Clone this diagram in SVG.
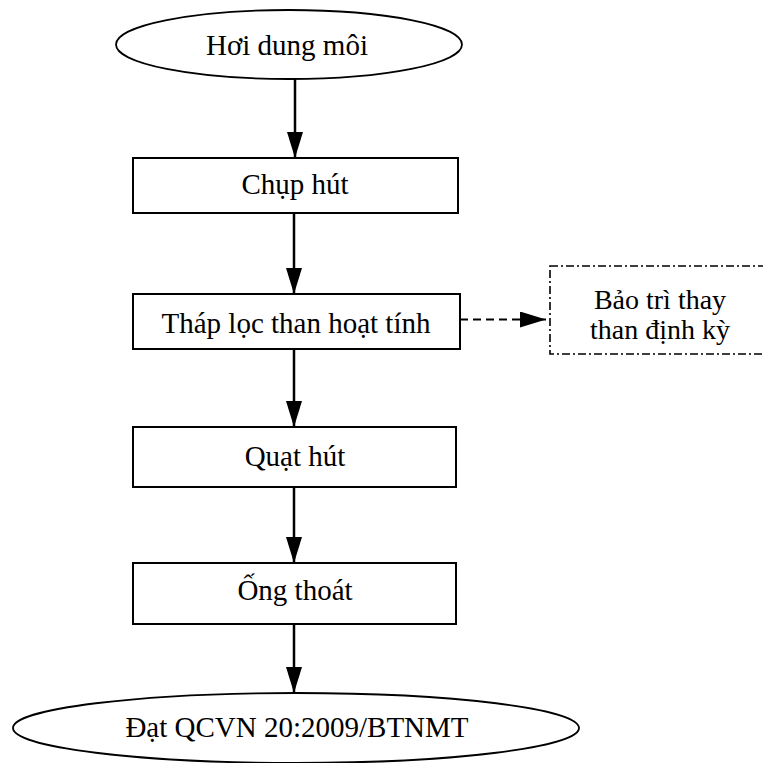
<svg xmlns="http://www.w3.org/2000/svg" width="763" height="763" viewBox="0 0 763 763">
  <style>
    .shape { fill: #ffffff; stroke: #000000; stroke-width: 2; }
    .oval { fill: #ffffff; stroke: #000000; stroke-width: 1.8; }
    .note { fill: #ffffff; stroke: #000000; stroke-width: 1.6; stroke-dasharray: 8 3 2 3; }
    .label { font-family: "Liberation Serif", "Times New Roman", serif; font-size: 29px; fill: #000000; text-anchor: middle; }
    .note-label { font-size: 28px; }
    .flow { stroke: #000000; stroke-width: 2.5; fill: none; }
    .dashed { stroke: #000000; stroke-width: 2.2; fill: none; stroke-dasharray: 8 5; }
  </style>
  <defs>
    <marker id="head" viewBox="0 0 26 16" refX="26" refY="8" markerWidth="26" markerHeight="16" markerUnits="userSpaceOnUse" orient="auto">
      <path d="M0,0 L26,8 L0,16 Z" fill="#000000"/>
    </marker>
  </defs>

  <rect width="763" height="763" fill="#ffffff"/>

  <g id="connectors">
    <line class="flow" x1="295" y1="79" x2="295" y2="158" marker-end="url(#head)"/>
    <line class="flow" x1="294" y1="213" x2="294" y2="294" marker-end="url(#head)"/>
    <line class="flow" x1="294" y1="349" x2="294" y2="427" marker-end="url(#head)"/>
    <line class="flow" x1="294" y1="487" x2="294" y2="563" marker-end="url(#head)"/>
    <line class="flow" x1="294" y1="624" x2="294" y2="693" marker-end="url(#head)"/>
    <line class="dashed" x1="460" y1="319.5" x2="546" y2="319.5" marker-end="url(#head)"/>
  </g>

  <g id="node-hoi-dung-moi">
    <ellipse class="oval" cx="289" cy="44.5" rx="173" ry="34.5"/>
    <text class="label" x="287" y="55">Hơi dung môi</text>
  </g>

  <g id="node-chup-hut">
    <rect class="shape" x="133" y="158" width="325" height="55"/>
    <text class="label" x="295" y="194">Chụp hút</text>
  </g>

  <g id="node-thap-loc">
    <rect class="shape" x="133" y="294" width="327" height="55"/>
    <text class="label" x="296" y="333">Tháp lọc than hoạt tính</text>
  </g>

  <g id="node-bao-tri">
    <rect class="note" x="550" y="266" width="222" height="88"/>
    <text class="label note-label" x="660" y="309">Bảo trì thay</text>
    <text class="label note-label" x="660" y="339">than định kỳ</text>
  </g>

  <g id="node-quat-hut">
    <rect class="shape" x="133" y="427" width="323" height="60"/>
    <text class="label" x="295" y="466">Quạt hút</text>
  </g>

  <g id="node-ong-thoat">
    <rect class="shape" x="133" y="563" width="323" height="61"/>
    <text class="label" x="295" y="600">Ống thoát</text>
  </g>

  <g id="node-dat-qcvn">
    <ellipse class="oval" cx="296" cy="728" rx="283" ry="35"/>
    <text class="label" x="297" y="737">Đạt QCVN 20:2009/BTNMT</text>
  </g>
</svg>
